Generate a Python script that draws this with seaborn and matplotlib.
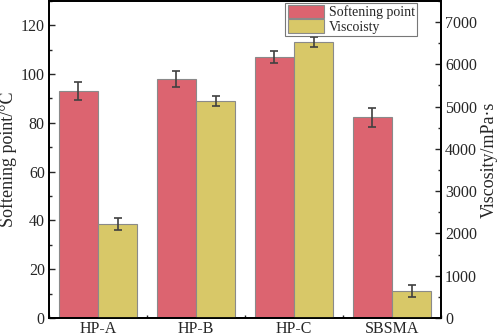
import pandas as pd
import numpy as np
import seaborn as sns
import matplotlib.pyplot as plt
from matplotlib.patches import Patch
from matplotlib.ticker import MultipleLocator

samples = ['HP-A', 'HP-B', 'HP-C', 'SBSMA']
softening = [93.0, 98.0, 107.0, 82.2]
softening_err = [3.7, 3.3, 2.4, 4.0]
viscosity = [2220, 5140, 6520, 640]
viscosity_err = [150, 120, 120, 135]

series = ['Softening point', 'Viscoisty']
colors = ['#DC6470', '#D8C868']

sns.set_style('ticks')
plt.rcParams.update({'font.family': ['Liberation Serif', 'DejaVu Serif'], 'font.size': 11})

# long tables, the other series left empty so the dodge keeps both slots
df_soft = pd.DataFrame({'sample': samples * 2,
                        'series': [series[0]] * 4 + [series[1]] * 4,
                        'value': softening + [np.nan] * 4})
df_visc = pd.DataFrame({'sample': samples * 2,
                        'series': [series[0]] * 4 + [series[1]] * 4,
                        'value': [np.nan] * 4 + viscosity})

fig = plt.figure(figsize=(4.98, 3.36), dpi=100)
ax = fig.add_axes([0.0984, 0.0536, 0.787, 0.944])
ax2 = ax.twinx()

pal = dict(zip(series, colors))
sns.barplot(data=df_soft, x='sample', y='value', hue='series', hue_order=series,
            palette=pal, ax=ax, width=0.8, errorbar=None, edgecolor='#8a8a8a',
            linewidth=0.8, saturation=1, legend=False)
sns.barplot(data=df_visc, x='sample', y='value', hue='series', hue_order=series,
            palette=pal, ax=ax2, width=0.8, errorbar=None, edgecolor='#8a8a8a',
            linewidth=0.8, saturation=1, legend=False)

# error bars at the bar centres
def add_err(a, vals, errs):
    bars = [p for p in a.patches if not np.isnan(p.get_height()) and p.get_height() > 0]
    bars = sorted(bars, key=lambda p: p.get_x())
    xs = [p.get_x() + p.get_width() / 2 for p in bars]
    a.errorbar(xs, vals, yerr=errs, fmt='none', ecolor='#404040', elinewidth=1.2,
               capsize=3, capthick=1.2, zorder=5)

add_err(ax, softening, softening_err)
add_err(ax2, viscosity, viscosity_err)

ax.set_xlim(-0.5, 3.5)
ax.set_ylim(0, 130)
ax2.set_ylim(0, 7500)
ax.yaxis.set_major_locator(MultipleLocator(20))
ax.yaxis.set_minor_locator(MultipleLocator(10))
ax2.yaxis.set_major_locator(MultipleLocator(1000))
ax2.yaxis.set_minor_locator(MultipleLocator(500))
ax.xaxis.set_minor_locator(MultipleLocator(0.5))

ax.set_xlabel('')
ax2.set_xlabel('')
ax.set_ylabel('Softening point/°C', fontsize=13, labelpad=3)
ax2.set_ylabel('Viscosity/mPa·s', fontsize=13, labelpad=3)

for a in (ax, ax2):
    for s in a.spines.values():
        s.set_visible(True)
        s.set_linewidth(1.3)
        s.set_color('black')
    a.tick_params(which='both', direction='in', labelsize=11.5, width=1.0, pad=3)
    a.tick_params(which='major', length=4)
    a.tick_params(which='minor', length=2)
ax.tick_params(axis='x', which='both', pad=2)
ax2.tick_params(axis='y', which='both', left=False, right=True)

handles = [Patch(facecolor=c, edgecolor='#8a8a8a', linewidth=0.8) for c in colors]
leg = ax2.legend(handles, series, loc='upper right', bbox_to_anchor=(0.945, 1.0),
                 fontsize=10, frameon=True, fancybox=False, edgecolor='#555555',
                 handlelength=2.6, handleheight=1.1, borderpad=0.15, labelspacing=0.0,
                 handletextpad=0.4, borderaxespad=0.15)
leg.get_frame().set_linewidth(0.8)

fig.savefig('out.png', dpi=100)
